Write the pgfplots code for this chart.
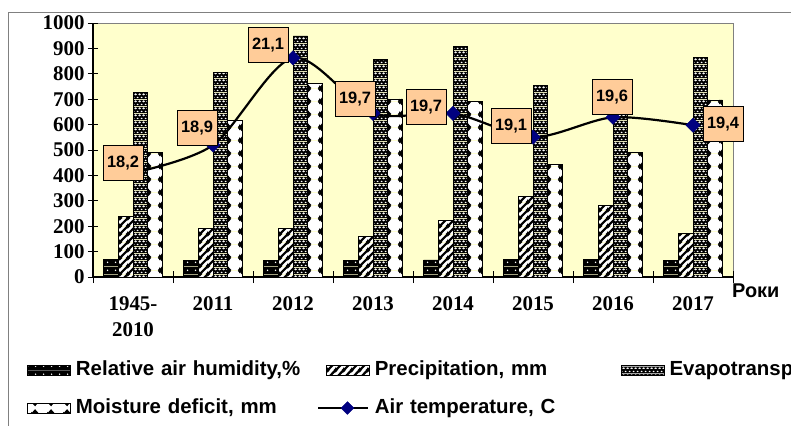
\documentclass[border=0pt]{standalone}
\usepackage{fontspec}
\setmainfont{Liberation Serif}
\newfontfamily\arialfont{Liberation Sans}
\usepackage{pgfplots}
\pgfplotsset{compat=1.18}
\usepackage{pgfplotstable}
\usetikzlibrary{patterns,patterns.meta}

\definecolor{plotbg}{HTML}{FFFFCC}
\definecolor{peach}{HTML}{FFCC99}
\definecolor{navy}{HTML}{000080}
\definecolor{framegray}{HTML}{808080}

% black with sparse white dots
\pgfdeclarepattern{
  name=humid, type=colored,
  bottom left={\pgfpoint{0bp}{0bp}}, top right={\pgfpoint{8bp}{8bp}},
  tile size={\pgfpoint{8bp}{8bp}},
  code={
    \pgfsetfillcolor{black}
    \pgfpathrectangle{\pgfpoint{0bp}{0bp}}{\pgfpoint{8bp}{8bp}}\pgfusepath{fill}
    \pgfsetfillcolor{white}
    \pgfpathcircle{\pgfpoint{4bp}{4bp}}{0.9bp}\pgfusepath{fill}
  }}
% white with black diagonal hatching
\pgfdeclarepattern{
  name=precip, type=colored,
  bottom left={\pgfpoint{0bp}{0bp}}, top right={\pgfpoint{8bp}{8bp}},
  tile size={\pgfpoint{8bp}{8bp}},
  code={
    \pgfsetfillcolor{white}
    \pgfpathrectangle{\pgfpoint{0bp}{0bp}}{\pgfpoint{8bp}{8bp}}\pgfusepath{fill}
    \pgfsetstrokecolor{black}\pgfsetlinewidth{2.4bp}
    \pgfpathmoveto{\pgfpoint{-1bp}{-1bp}}\pgfpathlineto{\pgfpoint{9bp}{9bp}}
    \pgfpathmoveto{\pgfpoint{-2bp}{6bp}}\pgfpathlineto{\pgfpoint{2bp}{10bp}}
    \pgfpathmoveto{\pgfpoint{6bp}{-2bp}}\pgfpathlineto{\pgfpoint{10bp}{2bp}}
    \pgfusepath{stroke}
  }}
% black with staggered white ovals
\pgfdeclarepattern{
  name=evapo, type=colored,
  bottom left={\pgfpoint{0bp}{0bp}}, top right={\pgfpoint{4bp}{6.6bp}},
  tile size={\pgfpoint{4bp}{6.6bp}},
  code={
    \pgfsetfillcolor{black}
    \pgfpathrectangle{\pgfpoint{0bp}{0bp}}{\pgfpoint{4bp}{6.6bp}}\pgfusepath{fill}
    \pgfsetfillcolor{white}
    \pgfpathellipse{\pgfpoint{2bp}{1.65bp}}{\pgfpoint{1.25bp}{0bp}}{\pgfpoint{0bp}{0.75bp}}
    \pgfpathellipse{\pgfpoint{0bp}{4.95bp}}{\pgfpoint{1.25bp}{0bp}}{\pgfpoint{0bp}{0.75bp}}
    \pgfpathellipse{\pgfpoint{4bp}{4.95bp}}{\pgfpoint{1.25bp}{0bp}}{\pgfpoint{0bp}{0.75bp}}
    \pgfusepath{fill}
  }}
% white discs separated by black wedges at the bar edges
\pgfdeclarepattern{
  name=moist, type=colored,
  bottom left={\pgfpoint{0bp}{0bp}}, top right={\pgfpoint{16bp}{13bp}},
  tile size={\pgfpoint{16bp}{13bp}},
  code={
    \pgfsetfillcolor{white}
    \pgfpathrectangle{\pgfpoint{0bp}{0bp}}{\pgfpoint{16bp}{13bp}}\pgfusepath{fill}
    \pgfsetfillcolor{black}
    \foreach \cx/\cy in {3.2/0,3.2/13,19.2/0,19.2/13,-12.8/0,-12.8/13}{
      \pgfpathmoveto{\pgfpoint{\cx bp-4.5bp}{\cy bp}}
      \pgfpathlineto{\pgfpoint{\cx bp}{\cy bp+5bp}}
      \pgfpathlineto{\pgfpoint{\cx bp+4.5bp}{\cy bp}}
      \pgfpathlineto{\pgfpoint{\cx bp}{\cy bp-5bp}}
      \pgfpathclose
    }
    \pgfusepath{fill}
  }}

% legend swatches: wide patch for bars, line with a centred mark
\pgfplotsset{
  barlegend/.style={legend image code/.code={
    \draw[##1, line width=0.7bp] (0bp,-5bp) rectangle (43bp,5bp);}},
  linelegend/.style={legend image code/.code={
    \draw[##1] (0bp,0bp) -- (42bp,0bp);
    \draw[##1] plot coordinates {(21bp,0bp)};}},
}

% climate indicators by year
\pgfplotstableread{
x  rh  prec evap moist
0  70  237  726  491
1  64  190  806  618
2  64  190  949  762
3  64  159  857  701
4  67  222  907  690
5  70  316  753  444
6  70  281  660  491
7  66  172  865  697
}\climate

% mean air temperature with label offsets (bp)
\pgfplotstableread{
x  T     dx   dy
0  18.2  -10  10
1  18.9  -16  17
2  21.1  -25  13
3  19.7  -18  14
4  19.7  -27   6
5  19.1  -22  11
6  19.6   -1  20
7  19.4   30   1
}\temperature

\begin{document}
\begin{tikzpicture}
\useasboundingbox (0bp,0bp) rectangle (791bp,-426bp);
\clip (0bp,0bp) rectangle (791bp,-426bp);
\draw[framegray, line width=1bp] (8bp,-440bp) -- (8bp,-12bp) -- (800bp,-12bp);

\begin{axis}[
  at={(93bp,-277bp)}, anchor=south west,
  scale only axis, width=640bp, height=254bp,
  xmin=-0.5, xmax=7.5, ymin=0, ymax=1000,
  axis x line*=bottom, axis y line*=left,
  axis line style={-, black, line width=1.2bp},
  axis background/.style={fill=plotbg, draw=framegray, line width=0.8bp},
  ybar=0pt, bar width=14.7bp,
  ytick={0,100,...,1000},
  xtick={0,...,7},
  xticklabels={{1945-\\2010},2011,2012,2013,2014,2015,2016,2017},
  minor xtick={-0.5,0.5,...,7.5},
  tick align=center,
  major tick length=10bp, minor tick length=12bp,
  major y tick style={black, line width=1bp},
  major x tick style={draw=none},
  minor x tick style={black, line width=1bp},
  yticklabel style={font=\fontsize{21}{22}\selectfont\bfseries,
    /pgf/number format/assume math mode=true, /pgf/number format/1000 sep={}},
  xticklabel style={font=\fontsize{21}{26}\selectfont\bfseries, align=center, yshift=-11bp},
  legend columns=3,
  legend cell align=left,
  legend style={at={(axis description cs:-0.103,-0.33)}, anchor=north west,
    draw=none, fill=none, inner sep=0pt, row sep=20bp,
    font=\arialfont\bfseries\fontsize{20.5}{21}\selectfont,
    nodes={inner sep=0pt, text width=241bp, align=left, text height=14bp, text depth=4bp},
    /tikz/every odd column/.append style={column sep=5bp}},
  every axis plot/.append style={draw=black, line width=0.7bp, barlegend},
]
\addplot[pattern=humid] table[x=x, y=rh] {\climate};
\addlegendentry{Relative air humidity,\%}
\addplot[pattern=precip] table[x=x, y=prec] {\climate};
\addlegendentry[text width=246bp]{Precipitation, mm}
\addplot[pattern=evapo] table[x=x, y=evap] {\climate};
\addlegendentry{Evapotranspiration, mm}
\addplot[pattern=moist] table[x=x, y=moist] {\climate};
\addlegendentry{Moisture deficit, mm}
\addlegendimage{linelegend, black, line width=2.2bp, mark=square*, mark size=4.5bp,
  mark options={rotate=45, fill=navy, draw=navy, line width=0.5bp}}
\addlegendentry{Air temperature, C}
\end{axis}

\begin{axis}[
  at={(93bp,-277bp)}, anchor=south west,
  scale only axis, width=640bp, height=254bp,
  xmin=-0.5, xmax=7.5, ymin=15.57, ymax=21.98,
  axis lines=none, clip=false,
]
\addplot[black, line width=2.2bp, smooth, tension=0.5,
  mark=square*, mark size=5bp,
  mark options={rotate=45, fill=navy, draw=navy, line width=0.5bp},
  visualization depends on={\thisrow{dx}\as\dx},
  visualization depends on={\thisrow{dy}\as\dy},
  nodes near coords={\pgfmathprintnumber[fixed, fixed zerofill, precision=1,
    use comma, assume math mode=true]{\pgfplotspointmeta}},
  every node near coord/.style={anchor=center, xshift=\dx bp, yshift=\dy bp,
    fill=peach, draw=black, line width=0.8bp, text=black,
    minimum width=40bp, minimum height=35bp, inner sep=0pt,
    font=\arialfont\bfseries\fontsize{16.5}{18}\selectfont},
] table[x=x, y=T] {\temperature};
\end{axis}

\node[anchor=base west, inner sep=0pt, font=\arialfont\bfseries\fontsize{20}{21}\selectfont]
  at (732bp,-297bp) {Роки};
\end{tikzpicture}
\end{document}
